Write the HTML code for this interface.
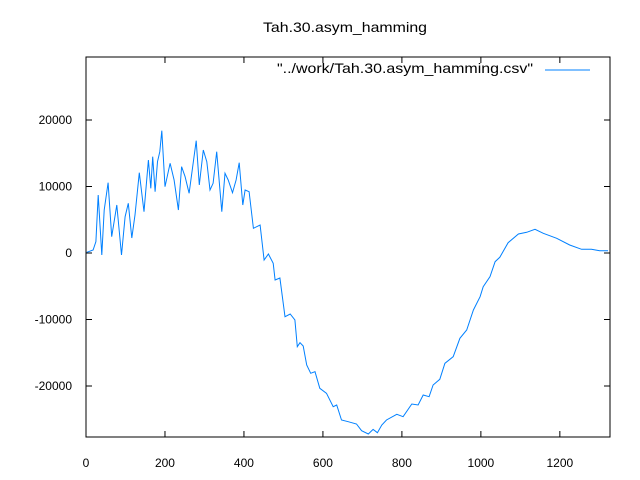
<!DOCTYPE html>
<html><head><meta charset="utf-8"><style>
body{margin:0;background:#fff;}
svg{display:block;font-family:"Liberation Sans",sans-serif;font-size:12px;}
</style></head><body>
<svg id="chart" width="640" height="480">
<rect width="640" height="480" fill="#fff"/>
<text x="263" y="32" font-size="14" textLength="164" lengthAdjust="spacingAndGlyphs">Tah.30.asym_hamming</text>
<g id="axes"></g>
<path id="series" fill="none" stroke="#0080ff" stroke-width="1"/>
<text x="277" y="73" font-size="14" textLength="256" lengthAdjust="spacingAndGlyphs">"../work/Tah.30.asym_hamming.csv"</text>
<line x1="545" y1="70" x2="590" y2="70" stroke="#0080ff"/>
</svg>
<script>
const xTicks=[0,200,400,600,800,1000,1200];
const yTicks=[-20000,-10000,0,10000,20000];
const xs=[2,18,25,31,40,46,56,65,78,90,99,107,116,124,135,147,158,164,169,175,181,187,192,200,213,223,234,242,251,261,270,279,287,297,306,314,322,331,344,352,360,371,380,388,397,403,413,424,441,451,462,474,479,491,504,517,529,535,542,550,559,569,580,592,609,626,635,647,664,685,698,715,727,738,749,761,787,803,825,841,854,869,879,896,909,930,947,964,981,998,1006,1023,1036,1048,1069,1095,1116,1137,1158,1192,1225,1255,1280,1301,1322];
const ys=[105,451,1700,8720,-300,6470,10570,2450,7220,-300,5460,7470,2260,5720,12080,6210,13990,9730,14480,9220,13730,15240,18390,9970,13490,10980,6470,12980,11480,8980,12890,16890,10230,15490,13730,9480,10480,15240,6210,11990,10980,9070,10980,13580,7220,9480,9220,3710,4210,-1050,-150,-1550,-4060,-3760,-9580,-9170,-10080,-14090,-13490,-13990,-16840,-18090,-17850,-20350,-21100,-23120,-22860,-25120,-25370,-25720,-26730,-27220,-26520,-27030,-25870,-25120,-24260,-24620,-22710,-22860,-21360,-21610,-19850,-19000,-16590,-15600,-12830,-11580,-8570,-6570,-5070,-3560,-1310,-650,1550,2860,3110,3560,2960,2210,1200,560,560,350,350];
const L=86,R=610,T=57,B=437,X0=0,X1=1327,Y0=-27670,Y1=29474;
const sx=v=>L+(v-X0)/(X1-X0)*(R-L);
const sy=v=>B-(v-Y0)/(Y1-Y0)*(B-T);
const NS='http://www.w3.org/2000/svg';
const ax=document.getElementById('axes');
function mk(t,a){const e=document.createElementNS(NS,t);for(const k in a)e.setAttribute(k,a[k]);ax.appendChild(e);return e;}
const fr=mk('rect',{x:L,y:T,width:R-L,height:B-T,fill:'none',stroke:'#000'});


xTicks.forEach(v=>{const x=sx(v);
 mk('line',{x1:x,y1:B,x2:x,y2:B-6,stroke:'#000'});
 mk('line',{x1:x,y1:T,x2:x,y2:T+6,stroke:'#000'});
 const t=mk('text',{x:x,y:467,'text-anchor':'middle'});t.textContent=v;
 
 
});
yTicks.forEach(v=>{const y=sy(v);
 mk('line',{x1:L,y1:y,x2:L+6,y2:y,stroke:'#000'});
 mk('line',{x1:R,y1:y,x2:R-6,y2:y,stroke:'#000'});
 const t=mk('text',{x:72,y:y+4,'text-anchor':'end'});t.textContent=v;
 
 
});
document.getElementById('series').setAttribute('d',xs.map((x,i)=>(i?'L':'M')+sx(x).toFixed(1)+' '+sy(ys[i]).toFixed(1)).join(''));
</script>
</body></html>
